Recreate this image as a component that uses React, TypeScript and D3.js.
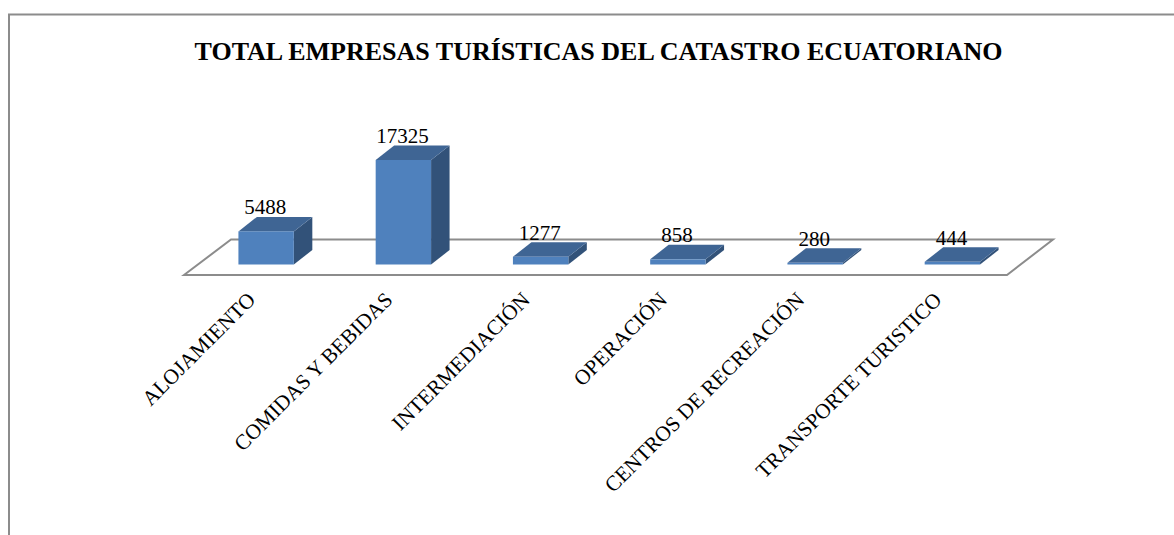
import React from "react";
import * as d3 from "d3";

const title = "TOTAL EMPRESAS TURÍSTICAS DEL CATASTRO ECUATORIANO";
const categories = ["ALOJAMIENTO", "COMIDAS Y BEBIDAS", "INTERMEDIACIÓN", "OPERACIÓN", "CENTROS DE RECREACIÓN", "TRANSPORTE TURISTICO"];
const values = [5488, 17325, 1277, 858, 280, 444];

const baseY = 264.5;
const depthX = 18.5;
const depthY = 14.5;
const font = "'Liberation Serif', 'Times New Roman', serif";

const band = d3.scaleBand<string>().domain(categories).range([197.5, 1021]);
const y = d3.scaleLinear().domain([0, 17325]).range([baseY, 160]);

const poly = (pts: [number, number][]) => {
  const line = d3.line();
  return line(pts) + "Z";
};

export default function App() {
  return (
    <svg width={1174} height={535} style={{ position: "absolute", left: 0, top: 0, display: "block" }}>
      <rect width={1174} height={535} fill="#fff" />
      <path d="M9 535V14.5H1174" fill="none" stroke="#8c8c8c" strokeWidth={2} />
      <text x={598.5} y={60} textAnchor="middle" fontFamily={font} fontWeight="bold" fontSize={26} fill="#000">{title}</text>
      <path d={poly([[184, 275], [231, 239.5], [1053, 239.5], [1007, 275]])} fill="none" stroke="#8c8c8c" strokeWidth={2} />
      {categories.map((c, i) => {
        const cx = band(c)! + band.bandwidth() / 2;
        const x0 = cx - 27.7;
        const x1 = cx + 27.7;
        const top = y(values[i]);
        return (
          <g key={c}>
            <path d={poly([[x1, baseY], [x1 + depthX, baseY - depthY], [x1 + depthX, top - depthY], [x1, top]])} fill="#325279" />
            <path d={poly([[x0, top], [x0 + depthX, top - depthY], [x1 + depthX, top - depthY], [x1, top]])} fill="#3f6594" />
            <rect x={x0} y={top} width={x1 - x0} height={baseY - top} fill="#4f81bd" />
            <text x={cx - 1} y={top - depthY - 2.5} textAnchor="middle" fontFamily={font} fontSize={21} fill="#000">{values[i]}</text>
            <text transform={`translate(${cx - 9.5},301) rotate(-45)`} textAnchor="end" fontFamily={font} fontSize={21.3} fill="#000">{c}</text>
          </g>
        );
      })}
    </svg>
  );
}
